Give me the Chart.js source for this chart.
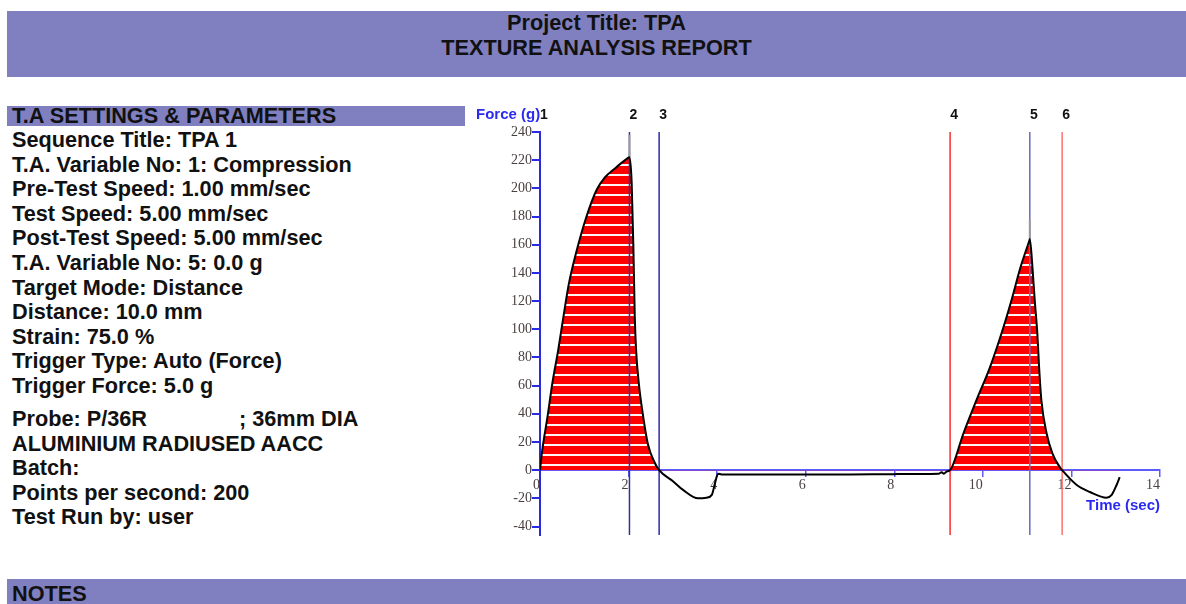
<!DOCTYPE html>
<html>
<head>
<meta charset="utf-8">
<script src="https://cdn.jsdelivr.net/npm/chart.js@4.4.1/dist/chart.umd.min.js"></script>
<style>
  body { margin: 0; background: #fff; font-family: "Liberation Sans", Arial, sans-serif; font-weight: bold; color: #111; }
  .band { position: absolute; background: #8080c0; }
  #header { left: 7px; top: 11px; width: 1179px; height: 66px; text-align: center; font-size: 21.7px; }
  #header div { position: absolute; left: 0; right: 0; line-height: 24px; }
  #settingsBand { left: 7px; top: 106px; width: 458px; height: 20px; font-size: 21.7px; line-height: 20px; padding-left: 5px; box-sizing: border-box; }
  #notesBand { left: 7px; top: 579px; width: 1179px; height: 30px; font-size: 21.7px; line-height: 29px; padding-left: 5px; box-sizing: border-box; }
  .params { position: absolute; left: 12px; font-size: 21.7px; line-height: 24.6px; white-space: nowrap; }
  .gap { display: inline-block; width: 92px; }
  #chartBox { position: absolute; left: 470px; top: 96px; width: 716px; height: 460px; }
</style>
</head>
<body>
<div id="header" class="band">
  <div style="top:0px">Project Title: TPA</div>
  <div style="top:25px">TEXTURE ANALYSIS REPORT</div>
</div>
<div id="settingsBand" class="band">T.A SETTINGS &amp; PARAMETERS</div>
<div class="params" style="top:128px">
  Sequence Title: TPA 1<br>
  T.A. Variable No: 1: Compression<br>
  Pre-Test Speed: 1.00 mm/sec<br>
  Test Speed: 5.00 mm/sec<br>
  Post-Test Speed: 5.00 mm/sec<br>
  T.A. Variable No: 5: 0.0 g<br>
  Target Mode: Distance<br>
  Distance: 10.0 mm<br>
  Strain: 75.0 %<br>
  Trigger Type: Auto (Force)<br>
  Trigger Force: 5.0 g
</div>
<div class="params" style="top:407px">
  Probe: P/36R<span class="gap"></span>; 36mm DIA<br>
  ALUMINIUM RADIUSED AACC<br>
  Batch:<br>
  Points per second: 200<br>
  Test Run by: user
</div>
<div id="notesBand" class="band">NOTES</div>
<div id="chartBox"><canvas id="grafico" width="716" height="460"></canvas></div>

<script>
// Curva fuerza / tiempo
const timeSec = [0, 0.05, 0.17, 0.28, 0.41, 0.53, 0.65, 0.83, 1.05, 1.28, 1.47, 1.65, 1.92, 2.02,
  2.07, 2.11, 2.14, 2.17, 2.23, 2.33, 2.44, 2.58, 2.69, 3.01, 3.23, 3.57, 3.76, 3.88, 3.95, 4.02,
  4.1, 5, 6, 7, 8, 9.0, 9.07, 9.12, 9.18, 9.26, 9.56, 9.86, 10.16, 10.42, 10.65, 10.85, 11.05, 11.06,
  11.12, 11.17, 11.23, 11.27, 11.32, 11.44, 11.57, 11.74, 11.79, 12.12, 12.42, 12.79, 12.91, 13.02, 13.09];
const forceG = [0, 14, 38, 62, 85, 109, 132, 156, 180, 199, 208, 213, 220, 222,
  204, 156, 109, 85, 62, 38, 18, 6, 0, -8, -14, -20, -19.5, -17.5, -9.5, -2.5,
  -3, -3, -3, -3, -2.8, -2.5, -1.5, -2.5, -1, 0, 26, 50, 73, 97, 121, 144, 163, 164,
  144, 121, 97, 73, 50, 26, 12, 2, 0, -10.5, -15.5, -19.5, -17.5, -10.5, -5];

// Marcadores verticales
const markerNames = ["1", "2", "3", "4", "5", "6"];
const markerTimes = [0, 2.02, 2.69, 9.26, 11.06, 11.79];
const markerColors = ["#2a2ae0", "#30309c", "#2c2ca8", "#ff2a2a", "#6a6ac0", "#ff7070"];

// Pequenas marcas grises sobre los picos
const spikeTimes = [2.02, 11.06];
const spikeLow = [222, 164];
const spikeHigh = [238, 178];

// Escalas y etiquetas de los ejes
const xMin = 0, xMax = 14, xStep = 2;
const yMin = -46, yMax = 240;
const yTicks = [-40, -20, 0, 20, 40, 60, 80, 100, 120, 140, 160, 180, 200, 220, 240];

// Patron rayado rojo/blanco para el area
function crearPatron() {
  const c = document.createElement("canvas");
  c.width = 8; c.height = 10;
  const g = c.getContext("2d");
  g.fillStyle = "#ff0000";
  g.fillRect(0, 0, 8, 8);
  g.fillStyle = "#fff4f4";
  g.fillRect(0, 8, 8, 2);
  return g.createPattern(c, "repeat");
}

const textos = {
  id: "textos",
  afterDraw(chart) {
    const { ctx, chartArea, scales } = chart;
    ctx.save();
    ctx.textBaseline = "middle";
    ctx.font = 'bold 14px "Liberation Sans", Arial';
    ctx.fillStyle = "#111";
    ctx.textAlign = "center";
    markerNames.forEach((n, i) => {
      ctx.fillText(n, scales.x.getPixelForValue(markerTimes[i]) + 4, chartArea.top - 17);
    });
    ctx.font = 'bold 15px "Liberation Sans", Arial';
    ctx.fillStyle = "#2b2bf0";
    ctx.textAlign = "left";
    ctx.fillText("Force (g)", chartArea.left - 64, chartArea.top - 17);
    ctx.textAlign = "right";
    ctx.fillText("Time (sec)", chartArea.right, scales.y.getPixelForValue(0) + 36);
    ctx.restore();
  }
};

const curva = timeSec.map((t, i) => ({ x: t, y: forceG[i] }));

const datasets = [{
  data: curva,
  borderColor: "#000",
  borderWidth: 2,
  pointRadius: 0,
  cubicInterpolationMode: "monotone",
  fill: { target: "origin", above: crearPatron(), below: "rgba(0,0,0,0)" }
}];

spikeTimes.forEach((t, i) => {
  datasets.push({
    data: [{ x: t, y: spikeLow[i] }, { x: t, y: spikeHigh[i] }],
    borderColor: "#9a9a9a", borderWidth: 2, pointRadius: 0, fill: false
  });
});

markerTimes.forEach((t, i) => {
  datasets.push({
    data: [{ x: t, y: yMax }, { x: t, y: yMin }],
    borderColor: markerColors[i], borderWidth: 1.5, pointRadius: 0, fill: false
  });
});

const serif = { family: '"Liberation Serif", "Times New Roman", serif', size: 14 };

new Chart(document.getElementById("grafico"), {
  type: "line",
  data: { datasets },
  options: {
    responsive: false,
    animation: false,
    devicePixelRatio: 1,
    layout: { padding: { left: 0, top: 36, right: 26, bottom: 21 } },
    plugins: {
      legend: { display: false },
      tooltip: { enabled: false },
      filler: { drawTime: "beforeDatasetsDraw" }
    },
    scales: {
      x: {
        type: "linear",
        min: xMin, max: xMax,
        position: { y: 0 },
        ticks: { stepSize: xStep, align: "end", font: serif, color: "#4a4040", padding: 1 },
        grid: { drawOnChartArea: false, drawTicks: true, tickLength: 6, color: "#5c5cff", lineWidth: 1.5 },
        border: { color: "#5c5cff", width: 2 }
      },
      y: {
        min: yMin, max: yMax,
        afterBuildTicks: (axis) => { axis.ticks = yTicks.map(v => ({ value: v })); },
        afterFit: (axis) => { axis.width = 70; },
        ticks: { font: serif, color: "#4a4040", padding: 0 },
        grid: { drawOnChartArea: false, drawTicks: true, tickLength: 8, color: "#2a2ae0", lineWidth: 2 },
        border: { color: "#2a2ae0", width: 2 }
      }
    }
  },
  plugins: [textos]
});
</script>
</body>
</html>
